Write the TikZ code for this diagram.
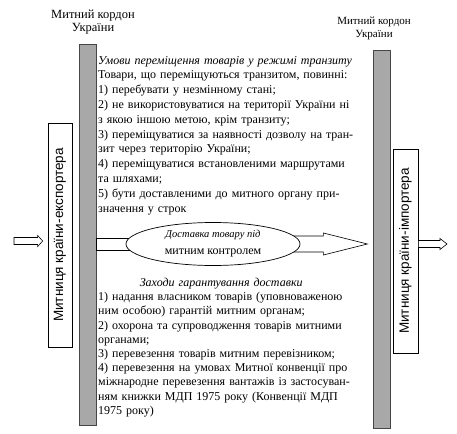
\documentclass[tikz,border=0pt]{standalone}
\usepackage{fontspec}
\setmainfont{Liberation Serif}
\setsansfont{Liberation Sans}
\usetikzlibrary{shapes.geometric,calc}
\newcommand{\fl}[1]{\makebox[273pt][s]{#1}}
\newcommand{\hollowarrow}[5]{\draw[fill=white,line width=.6pt] ($(#1)+(0,#3)$) -- ($(#2)+(-#5,#3)$) -- ($(#2)+(-#5,#4)$) -- (#2) -- ($(#2)+(-#5,-#4)$) -- ($(#2)+(-#5,-#3)$) -- ($(#1)+(0,-#3)$) -- cycle;}
\begin{document}
\begin{tikzpicture}[x=1pt,y=-1pt,
    bar/.style={rectangle,fill=gray!68,draw=gray!55!black,line width=.4pt,minimum width=17pt,inner sep=0pt},
    custbox/.style={rectangle,draw,line width=.7pt,rotate=90,inner sep=0pt,font=\sffamily\fontsize{13.5}{14}\selectfont},
    kordon/.style={align=center,inner sep=0pt},
    txt/.style={anchor=north west,inner sep=0pt,text width=273pt,align=left},
    dostavka/.style={ellipse,draw,fill=white,line width=.7pt,minimum width=174pt,minimum height=43pt,inner sep=0pt,align=center,font=\fontsize{12}{17}\selectfont}]
\useasboundingbox (0,0) rectangle (457,433);
\node[bar,minimum height=381pt] (lbar) at (87.5,234.5) {};
\node[bar,minimum height=378pt] (rbar) at (382,239) {};
\node[kordon,font=\fontsize{12.5}{13.5}\selectfont] (lkordon) at (93,22) {Митний кордон\\України};
\node[kordon,font=\fontsize{11}{13}\selectfont] (rkordon) at (374,28) {Митний кордон\\України};
\node[custbox,minimum width=224pt,minimum height=24pt] (lbox) at (60,235) {Митниця країни-експортера};
\node[custbox,minimum width=204pt,minimum height=25pt] (rbox) at (405.5,251) {Митниця країни-імпортера};
\coordinate (vkhid) at (14,241);
\coordinate (vykhid) at (447,244);
\coordinate (dcentr) at (213,244);
\hollowarrow{vkhid}{$(lbox.north)+(-5,6)$}{3.5}{5.5}{5}
\hollowarrow{rbox.south |- vykhid}{vykhid}{3.5}{5.5}{7}
\draw[fill=white,line width=.6pt] ($(lbar.east |- dcentr)+(0,-6)$) rectangle ($(dcentr)+(0,6)$);
\hollowarrow{dcentr}{$(rbar.west |- dcentr)+(-6,0)$}{8}{11}{44}
\node[dostavka] (dost) at (dcentr) {{\itshape\fontsize{10.5}{17}\selectfont Доставка товару під}\\митним контролем};
\node[txt,font=\fontsize{12}{14.8}\selectfont] (umovy) at (98,56) {\fl{\itshape Умови переміщення товарів у режимі транзиту}\\
Товари, що переміщуються транзитом, повинні:\\
1) перебувати у незмінному стані;\\
\fl{2) не використовуватися на території України ні}\\
з якою іншою метою, крім транзиту;\\
\fl{3) переміщуватися за наявності дозволу на тран-}\\
зит через територію України;\\
\fl{4) переміщуватися встановленими маршрутами}\\
та шляхами;\\
\fl{5) бути доставленими до митного органу при-}\\
значення у строк};
\node[txt,font=\fontsize{12}{14.2}\selectfont] (zakhody) at (98,278) {\makebox[246pt][c]{\itshape Заходи гарантування доставки}\\
\fl{1) надання власником товарів (уповноваженою}\\
ним особою) гарантій митним органам;\\
\fl{2) охорона та супроводження товарів митними}\\
органами;\\
3) перевезення товарів митним перевізником;\\
\fl{4) перевезення на умовах Митної конвенції про}\\
\fl{міжнародне перевезення вантажів із застосуван-}\\
\fl{ням книжки МДП 1975 року (Конвенції МДП}\\
1975 року)};
\end{tikzpicture}
\end{document}
